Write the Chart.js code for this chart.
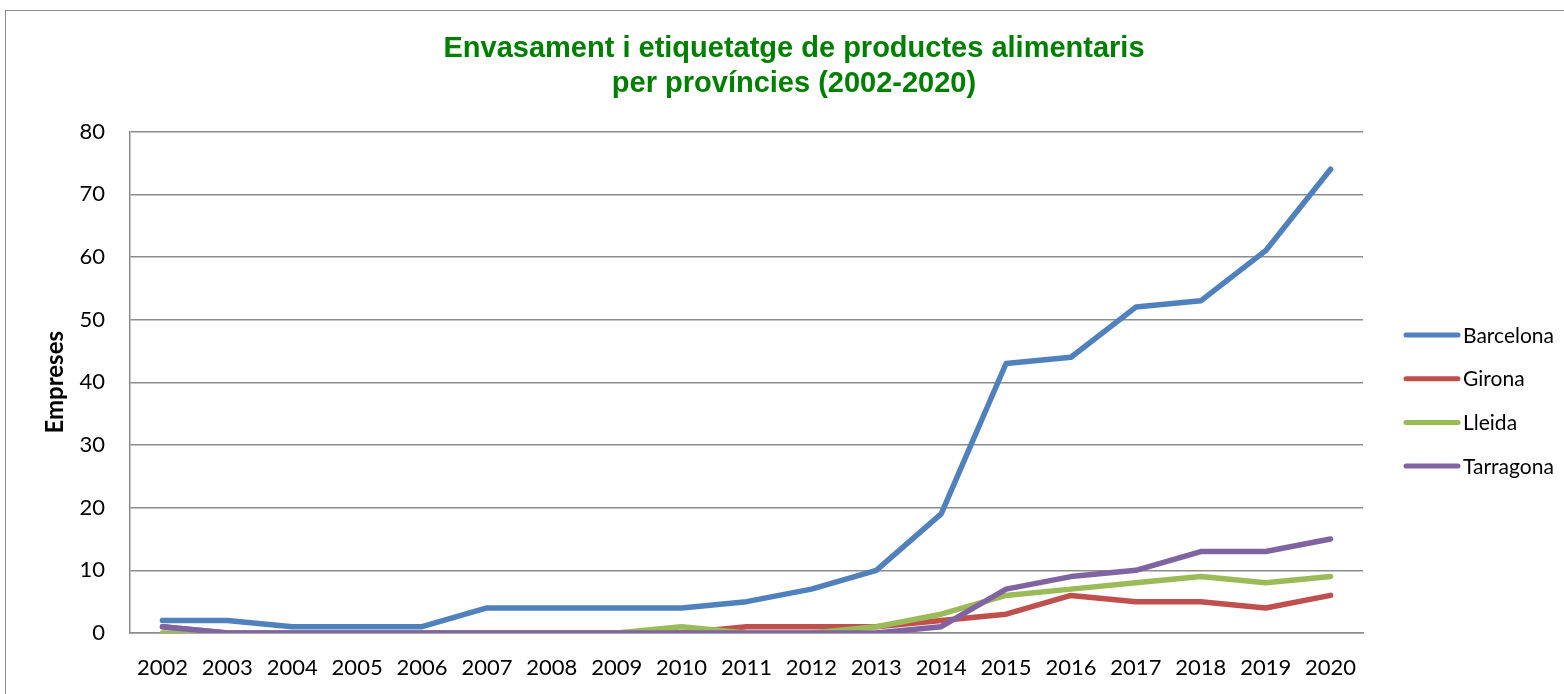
<!DOCTYPE html>
<html>
<head>
<meta charset="utf-8">
<script src="https://cdn.jsdelivr.net/npm/chart.js@4"></script>
<style>
  html, body { margin: 0; padding: 0; background: #fff; overflow: hidden; }
  #frame {
    position: absolute; left: 5px; top: 10px; width: 1600px; height: 720px;
    border-left: 1.5px solid #8c8c8c; border-top: 1.5px solid #8c8c8c;
  }
  #wrap { position: absolute; left: 0; top: 0; width: 1564px; height: 694px; }
</style>
</head>
<body>
<div id="frame"></div>
<div id="wrap"><canvas id="provinces-chart" width="1564" height="694"></canvas></div>
<script>
const years = ['2002', '2003', '2004', '2005', '2006', '2007', '2008', '2009', '2010', '2011',
  '2012', '2013', '2014', '2015', '2016', '2017', '2018', '2019', '2020'];
const barcelona = [2, 2, 1, 1, 1, 4, 4, 4, 4, 5, 7, 10, 19, 43, 44, 52, 53, 61, 74];
const girona = [1, 0, 0, 0, 0, 0, 0, 0, 0, 1, 1, 1, 2, 3, 6, 5, 5, 4, 6];
const lleida = [0, 0, 0, 0, 0, 0, 0, 0, 1, 0, 0, 1, 3, 6, 7, 8, 9, 8, 9];
const tarragona = [1, 0, 0, 0, 0, 0, 0, 0, 0, 0, 0, 0, 1, 7, 9, 10, 13, 13, 15];
const yTicks = [0, 10, 20, 30, 40, 50, 60, 70, 80];

const gridColor = '#8c8c8c';

function series(label, values, color, order) {
  return {
    label: label,
    data: values,
    borderColor: color,
    backgroundColor: color,
    borderWidth: 5.5,
    borderCapStyle: 'round',
    borderJoinStyle: 'round',
    tension: 0,
    pointRadius: 0,
    pointHoverRadius: 0,
    fill: false,
    order: order,  // later series on top, like the spreadsheet
  };
}

// legend drawn to the right of the plot, one short line + name per series
const sideLegend = {
  id: 'sideLegend',
  afterDraw(chart) {
    const ctx = chart.ctx;
    const x0 = chart.chartArea.right + 41;
    const yStart = 335;
    const step = 43.7;
    ctx.save();
    ctx.font = '21px Lato';
    ctx.textBaseline = 'middle';
    ctx.fillStyle = '#000';
    chart.data.datasets.forEach((ds, i) => {
      const y = yStart + i * step;
      ctx.strokeStyle = ds.borderColor;
      ctx.lineWidth = 5;
      ctx.lineCap = 'round';
      ctx.beginPath();
      ctx.moveTo(x0 + 2, y);
      ctx.lineTo(x0 + 54, y);
      ctx.stroke();
      ctx.fillText(ds.label, x0 + 59, y + 1);
    });
    ctx.restore();
  }
};

const data = {
  labels: years,
  datasets: [
    series('Barcelona', barcelona, '#4f81bd', 3),
    series('Girona', girona, '#c0504d', 2),
    series('Lleida', lleida, '#9bbb59', 1),
    series('Tarragona', tarragona, '#8064a2', 0),
  ]
};

const config = {
  type: 'line',
  data: data,
  plugins: [sideLegend],
  options: {
    responsive: false,
    animation: false,
    layout: { padding: { left: 24, right: 0, top: 0, bottom: 0 } },
    plugins: {
      legend: { display: false },
      tooltip: { enabled: false },
      title: {
        display: true,
        text: ['Envasament i etiquetatge de productes alimentaris', 'per províncies (2002-2020)'],
        color: '#008000',
        font: { family: '"Liberation Sans", Arial, sans-serif', size: 29, weight: 'bold', lineHeight: 1.2 },
        padding: { top: 32, bottom: 30 },
      }
    },
    scales: {
      x: {
        offset: true,
        grid: { display: false, drawTicks: false },
        border: { display: true, color: gridColor, width: 1.5 },
        ticks: {
          color: '#000',
          padding: 22,
          maxRotation: 0,
          autoSkip: false,
          font: { family: 'Lato', size: 22 },
        },
        afterFit: scale => { scale.height = 61; },
      },
      y: {
        min: 0,
        max: 80,
        afterBuildTicks: scale => { scale.ticks = yTicks.map(v => ({ value: v })); },
        grid: { color: gridColor, lineWidth: 1.5, drawTicks: false },
        border: { display: true, color: gridColor, width: 1.5 },
        ticks: {
          color: '#000',
          padding: 25,
          font: { family: 'Lato', size: 22 },
        },
        title: {
          display: true,
          text: 'Empreses',
          color: '#000',
          font: { family: 'Lato', size: 24, weight: 'bold' },
          padding: { top: 17, bottom: 0 },
        },
        afterFit: scale => { scale.width = 106; },
      },
      // empty right-hand band that keeps room for the legend
      legendBand: {
        type: 'linear',
        position: 'right',
        display: true,
        grid: { display: false, drawTicks: false },
        border: { display: false },
        ticks: { display: false },
        afterFit: scale => { scale.width = 201; },
      }
    }
  }
};

const ctx = document.getElementById('provinces-chart');

new Chart(ctx, config);
</script>
</body>
</html>
